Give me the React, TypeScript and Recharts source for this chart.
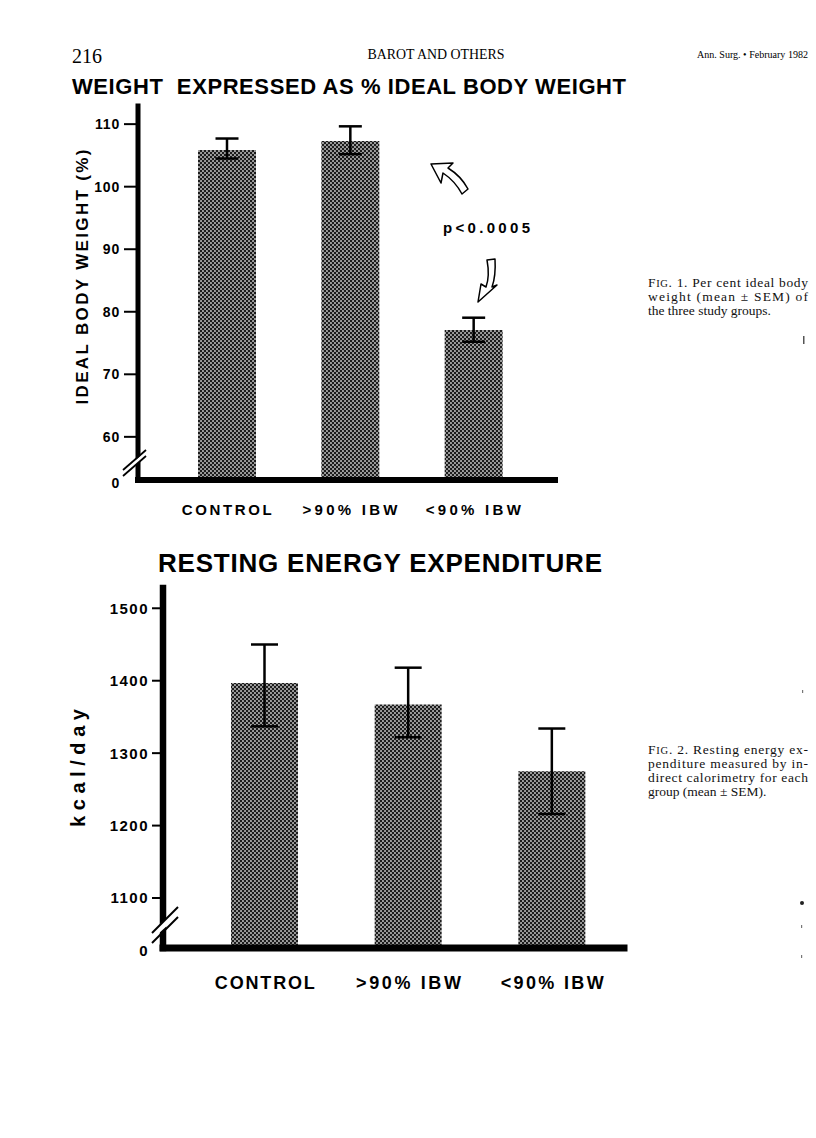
import { BarChart, Bar, XAxis, YAxis, ErrorBar } from 'recharts';

const SANS = '"Liberation Sans", Arial, Helvetica, sans-serif';
const SERIF = '"Liberation Serif", "Times New Roman", serif';

const groups = ['CONTROL', '>90% IBW', '<90% IBW'];

// Fig. 1 - weight as % of ideal body weight (mean, SEM)
const ibwMean = [105.85, 107.3, 77.1];
const ibwSemLow = [1.35, 2.1, 1.9];
const ibwSemHigh = [1.85, 2.35, 1.95];
const ibwTicks = [60, 70, 80, 90, 100, 110];
const ibwBreak = 53.1; // bottom of the broken axis, printed as "0"
const ibwTop = 112.9;

// Fig. 2 - resting energy expenditure, kcal/day (mean, SEM)
const reeMean = [1397, 1367, 1275];
const reeSemLow = [60, 45, 59];
const reeSemHigh = [53, 51, 59];
const reeTicks = [1100, 1200, 1300, 1400, 1500];
const reeBreak = 1031;
const reeTop = 1528;

const ibwData = groups.map((g, i) => ({ group: g, value: ibwMean[i], err: [ibwSemLow[i], ibwSemHigh[i]] }));
const reeData = groups.map((g, i) => ({ group: g, value: reeMean[i], err: [reeSemLow[i], reeSemHigh[i]] }));

function YTick({ x, y, payload, zero, tickLen, gap, fontSize, spacing }: any) {
  const isZero = payload.value === zero;
  return (
    <g>
      {!isZero && <line x1={x - tickLen} x2={x} y1={y} y2={y} stroke="#000" strokeWidth={2} />}
      <text
        x={x - tickLen - gap}
        y={y + (isZero ? 3 : 0)}
        dy={fontSize * 0.36}
        textAnchor="end"
        fontFamily={SANS}
        fontWeight="bold"
        fontSize={fontSize}
        letterSpacing={spacing}
        fill="#000"
      >
        {isZero ? '0' : payload.value}
      </text>
    </g>
  );
}

function XTick({ x, y, payload, index, dy, fontSize, widths }: any) {
  return (
    <text
      x={x}
      y={y + dy}
      textAnchor="middle"
      fontFamily={SANS}
      fontWeight="bold"
      fontSize={fontSize}
      textLength={widths[index]}
      lengthAdjust="spacing"
      fill="#000"
    >
      {payload.value}
    </text>
  );
}

// halftone mesh: black tile with transparent holes, so the error bar shows through
const hole = (cx: number, cy: number) => `M${cx - 1.05},${cy} a1.05,0.8 0 1,0 2.1,0 a1.05,0.8 0 1,0 -2.1,0 Z`;

function Mesh({ id }: { id: string }) {
  return (
    <defs>
      <pattern id={id} width={4} height={4} patternUnits="userSpaceOnUse">
        <path d={`M0,0 H4 V4 H0 Z ${hole(1, 1)} ${hole(3, 3)}`} fill="#1c1c1c" fillRule="evenodd" />
      </pattern>
    </defs>
  );
}

function WeightChart() {
  return (
    <BarChart width={600} height={420} data={ibwData} margin={{ top: 6, right: 45, left: 78, bottom: 0 }}>
      <Mesh id="mesh1" />
      <XAxis
        dataKey="group"
        height={40}
        padding={{ left: 27, right: 20 }}
        tickLine={false}
        tickSize={0}
        tickMargin={0}
        axisLine={{ stroke: '#000', strokeWidth: 6, strokeLinecap: 'square' }}
        tick={(p: any) => <XTick {...p} dy={35} fontSize={15} widths={[90, 95, 95]} />}
      />
      <YAxis
        type="number"
        width={60}
        domain={[ibwBreak, ibwTop]}
        ticks={[ibwBreak, ...ibwTicks]}
        interval={0}
        allowDataOverflow
        tickLine={false}
        tickSize={0}
        tickMargin={0}
        axisLine={{ stroke: '#000', strokeWidth: 5, strokeLinecap: 'square' }}
        tick={(p: any) => <YTick {...p} zero={ibwBreak} tickLen={14} gap={4} fontSize={14} spacing={0.8} />}
      />
      <Bar dataKey="value" barSize={58} fill="url(#mesh1)" isAnimationActive={false}>
        <ErrorBar dataKey="err" direction="y" width={11.5} stroke="#000" strokeWidth={2.5} />
      </Bar>
    </BarChart>
  );
}

function EnergyChart() {
  return (
    <BarChart width={660} height={438} data={reeData} margin={{ top: 18, right: 36, left: 103, bottom: 0 }}>
      <Mesh id="mesh2" />
      <XAxis
        dataKey="group"
        height={60}
        padding={{ left: 30, right: 0 }}
        tickLine={false}
        tickSize={0}
        tickMargin={0}
        axisLine={{ stroke: '#000', strokeWidth: 7, strokeLinecap: 'square' }}
        tick={(p: any) => <XTick {...p} dy={41} fontSize={18} widths={[100, 105, 103]} />}
      />
      <YAxis
        type="number"
        width={60}
        domain={[reeBreak, reeTop]}
        ticks={[reeBreak, ...reeTicks]}
        interval={0}
        allowDataOverflow
        tickLine={false}
        tickSize={0}
        tickMargin={0}
        axisLine={{ stroke: '#000', strokeWidth: 6.5, strokeLinecap: 'square' }}
        tick={(p: any) => <YTick {...p} zero={reeBreak} tickLen={11} gap={3} fontSize={15} spacing={1.5} />}
      />
      <Bar dataKey="value" barSize={67} fill="url(#mesh2)" isAnimationActive={false}>
        <ErrorBar dataKey="err" direction="y" width={13.5} stroke="#000" strokeWidth={2.5} />
      </Bar>
    </BarChart>
  );
}

export default function App() {
  return (
    <div style={{ position: 'absolute', left: 0, top: 0, width: 816, height: 1138, background: '#fff' }}>
      <div style={{ position: 'absolute', left: 0, top: 100 }}>
        <WeightChart />
      </div>
      <div style={{ position: 'absolute', left: 0, top: 570 }}>
        <EnergyChart />
      </div>
      <svg width={816} height={1138} style={{ position: 'absolute', left: 0, top: 0, pointerEvents: 'none' }}>
        {/* running head */}
        <text x={72} y={63} fontFamily={SERIF} fontSize={20}>216</text>
        <text x={436} y={59} fontFamily={SERIF} fontSize={14} textAnchor="middle" textLength={137} lengthAdjust="spacingAndGlyphs">BAROT AND OTHERS</text>
        <text x={697} y={58} fontFamily={SERIF} fontSize={10} textLength={111} lengthAdjust="spacingAndGlyphs">Ann. Surg. • February 1982</text>

        {/* fig 1 */}
        <text x={72} y={94} fontFamily={SANS} fontWeight="bold" fontSize={22} textLength={554} lengthAdjust="spacing" style={{ whiteSpace: 'pre' }}>WEIGHT  EXPRESSED AS % IDEAL BODY WEIGHT</text>
        <text transform="translate(88,277) rotate(-90)" textAnchor="middle" fontFamily={SANS} fontWeight="bold" fontSize={17} textLength={255} lengthAdjust="spacing">IDEAL BODY WEIGHT (%)</text>
        <text x={443} y={233} fontFamily={SANS} fontWeight="bold" fontSize={15} textLength={87} lengthAdjust="spacing">p&lt;0.0005</text>
        <path d="M431,164 L453,163 L448,168 Q461,176 468,189 L462,194 Q455,181 443,173 L441,183 Z" fill="#fff" stroke="#000" strokeWidth={1.5} strokeLinejoin="round" />
        <path d="M487,260 L495,259 Q496,276 492,287 L497,285 L478,302 L481,284 L486,287 Q490,276 487,260 Z" fill="#fff" stroke="#000" strokeWidth={1.5} strokeLinejoin="round" />
        <polygon points="132,463 146,451 146,456 132,468" fill="#fff" />
        <line x1={123} y1={470} x2={146} y2={450} stroke="#000" strokeWidth={1.8} />
        <line x1={123} y1={476} x2={146} y2={456} stroke="#000" strokeWidth={1.8} />

        <text fontFamily={SERIF} fontSize={13.5} fill="#111">
          <tspan x={648} y={287} textLength={160} lengthAdjust="spacing">F<tspan fontSize={10.5}>IG</tspan>. 1. Per cent ideal body</tspan>
          <tspan x={648} y={301} textLength={160} lengthAdjust="spacing">weight (mean ± SEM) of</tspan>
          <tspan x={648} y={315}>the three study groups.</tspan>
        </text>
        <rect x={803} y={336} width={1.5} height={8} fill="#555" />

        {/* fig 2 */}
        <text x={158} y={572} fontFamily={SANS} fontWeight="bold" fontSize={26} textLength={444} lengthAdjust="spacing">RESTING ENERGY EXPENDITURE</text>
        <text transform="translate(85,768) rotate(-90)" textAnchor="middle" fontFamily={SANS} fontWeight="bold" fontSize={20} textLength={118} lengthAdjust="spacing">kcal/day</text>
        <polygon points="158,926 178,908 178,916 158,934" fill="#fff" />
        <line x1={152} y1={933} x2={178} y2={907} stroke="#000" strokeWidth={2} />
        <line x1={152} y1={943} x2={178} y2={917} stroke="#000" strokeWidth={2} />

        <text fontFamily={SERIF} fontSize={13.5} fill="#111">
          <tspan x={648} y={754} textLength={160} lengthAdjust="spacing">F<tspan fontSize={10.5}>IG</tspan>. 2. Resting energy ex-</tspan>
          <tspan x={648} y={768} textLength={160} lengthAdjust="spacing">penditure measured by in-</tspan>
          <tspan x={648} y={782} textLength={160} lengthAdjust="spacing">direct calorimetry for each</tspan>
          <tspan x={648} y={796}>group (mean ± SEM).</tspan>
        </text>
        <circle cx={802} cy={903} r={2} fill="#222" />
        <rect x={802} y={690} width={1.2} height={3} fill="#777" />
        <rect x={801} y={925} width={1.2} height={3} fill="#777" />
        <rect x={801} y={955} width={1.2} height={3} fill="#777" />
      </svg>
    </div>
  );
}
